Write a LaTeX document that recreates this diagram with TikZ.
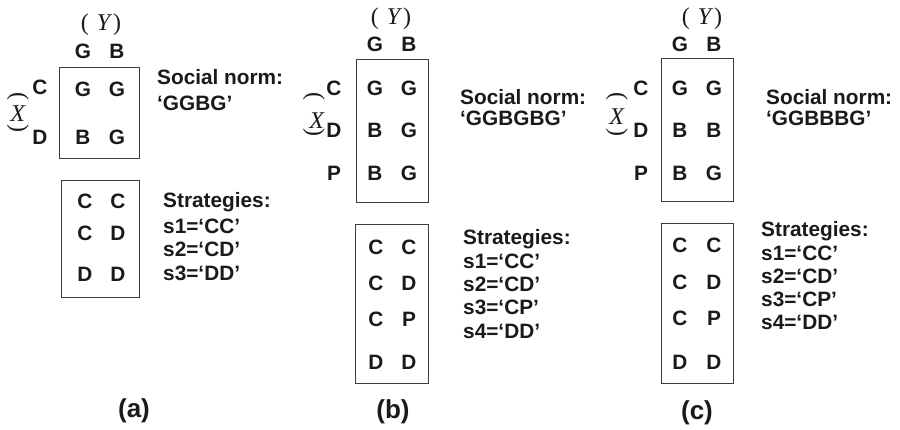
\documentclass[tikz,border=0pt]{standalone}
\usepackage{fontspec}
\setmainfont{Liberation Sans}
\newfontfamily\serifit{Liberation Serif}
\definecolor{ink}{HTML}{1A1A1A}
\begin{document}
\begin{tikzpicture}[x=1pt,y=-1pt,
  lab/.style={font=\fontsize{20.8}{25}\selectfont\bfseries, text=ink, inner sep=0pt, text height=14.9pt, text depth=0pt},
  txt/.style={lab, anchor=west},
  capt/.style={font=\fontsize{26}{30}\selectfont\bfseries, text=ink, inner sep=0pt},
  var/.style={font=\fontsize{24}{28}\selectfont\serifit, text=ink, inner sep=0pt},
  brk/.style={var, rotate=-90},
  frame/.style={draw=ink!85, line width=0.9pt}]
\useasboundingbox[fill=white] (0,0) rectangle (900,430);

% ---------------- (a) ----------------
\node[var] (aY) at (101,25) {(\hspace{8pt}\textit{Y}\hspace{1pt})};
\node[lab] (aHG) at (83,51) {G};
\node[lab] (aHB) at (117,51) {B};
\draw[frame] (59,67) rectangle (139,158);
\node[lab] (aRC) at (40,87) {C};
\node[lab] (aRD) at (40,137) {D};
\node[lab] (a11) at (83,89) {G};
\node[lab] (a12) at (117,89) {G};
\node[lab] (a21) at (83,137) {B};
\node[lab] (a22) at (117,137) {G};
\node[var] (aX) at (18,114) {\textit{X}};
\node[brk] (aXt) at (18,96) {(};
\node[brk] (aXb) at (18,128) {)};
\node[txt] (aSN) at (157,77) {Social norm:};
\node[txt] (aSV) at (157,103) {‘GGBG’};
\draw[frame] (61,180) rectangle (139,297);
\node[lab] (as11) at (85,201) {C};
\node[lab] (as12) at (118,201) {C};
\node[lab] (as21) at (85,233) {C};
\node[lab] (as22) at (118,233) {D};
\node[lab] (as31) at (85,274) {D};
\node[lab] (as32) at (118,274) {D};
\node[txt] (aST) at (163,200) {Strategies:};
\node[txt] (aS1) at (163,226) {s1=‘CC’};
\node[txt] (aS2) at (163,249) {s2=‘CD’};
\node[txt] (aS3) at (163,273) {s3=‘DD’};
\node[capt] (aCap) at (134,411) {(a)};

% ---------------- (b) ----------------
\node[var] (bY) at (391,19) {(\hspace{8pt}\textit{Y}\hspace{1pt})};
\node[lab] (bHG) at (375,44) {G};
\node[lab] (bHB) at (409,44) {B};
\draw[frame] (356,59) rectangle (428,202);
\node[lab] (bRC) at (334,88) {C};
\node[lab] (bRD) at (334,130) {D};
\node[lab] (bRP) at (334,173) {P};
\node[lab] (b11) at (375,88) {G};
\node[lab] (b12) at (409,88) {G};
\node[lab] (b21) at (375,130) {B};
\node[lab] (b22) at (409,130) {G};
\node[lab] (b31) at (375,173) {B};
\node[lab] (b32) at (409,173) {G};
\node[var] (bX) at (317,121) {\textit{X}};
\node[brk] (bXt) at (314,96) {(};
\node[brk] (bXb) at (314,132) {)};
\node[txt] (bSN) at (460,97) {Social norm:};
\node[txt] (bSV) at (460,118) {‘GGBGBG’};
\draw[frame] (355,224) rectangle (428,383);
\node[lab] (bs11) at (376,247) {C};
\node[lab] (bs12) at (409,247) {C};
\node[lab] (bs21) at (376,283) {C};
\node[lab] (bs22) at (409,283) {D};
\node[lab] (bs31) at (376,319) {C};
\node[lab] (bs32) at (409,319) {P};
\node[lab] (bs41) at (376,362) {D};
\node[lab] (bs42) at (409,362) {D};
\node[txt] (bST) at (463,237) {Strategies:};
\node[txt] (bS1) at (463,261) {s1=‘CC’};
\node[txt] (bS2) at (463,284) {s2=‘CD’};
\node[txt] (bS3) at (463,307) {s3=‘CP’};
\node[txt] (bS4) at (463,331) {s4=‘DD’};
\node[capt] (bCap) at (393,412) {(b)};

% ---------------- (c) ----------------
\node[var] (cY) at (702,19) {(\hspace{8pt}\textit{Y}\hspace{1pt})};
\node[lab] (cHG) at (680,44) {G};
\node[lab] (cHB) at (714,44) {B};
\draw[frame] (661,58) rectangle (733,201);
\node[lab] (cRC) at (641,88) {C};
\node[lab] (cRD) at (641,130) {D};
\node[lab] (cRP) at (641,173) {P};
\node[lab] (c11) at (680,88) {G};
\node[lab] (c12) at (714,88) {G};
\node[lab] (c21) at (680,130) {B};
\node[lab] (c22) at (714,130) {B};
\node[lab] (c31) at (680,173) {B};
\node[lab] (c32) at (714,173) {G};
\node[var] (cX) at (617,117) {\textit{X}};
\node[brk] (cXt) at (617,96) {(};
\node[brk] (cXb) at (617,132) {)};
\node[txt] (cSN) at (766,97) {Social norm:};
\node[txt] (cSV) at (766,118) {‘GGBBBG’};
\draw[frame] (661,223) rectangle (733,383);
\node[lab] (cs11) at (680,245) {C};
\node[lab] (cs12) at (714,245) {C};
\node[lab] (cs21) at (680,282) {C};
\node[lab] (cs22) at (714,282) {D};
\node[lab] (cs31) at (680,318) {C};
\node[lab] (cs32) at (714,318) {P};
\node[lab] (cs41) at (680,362) {D};
\node[lab] (cs42) at (714,362) {D};
\node[txt] (cST) at (761,229) {Strategies:};
\node[txt] (cS1) at (761,253) {s1=‘CC’};
\node[txt] (cS2) at (761,276) {s2=‘CD’};
\node[txt] (cS3) at (761,299) {s3=‘CP’};
\node[txt] (cS4) at (761,322) {s4=‘DD’};
\node[capt] (cCap) at (697,413) {(c)};
\end{tikzpicture}
\end{document}
